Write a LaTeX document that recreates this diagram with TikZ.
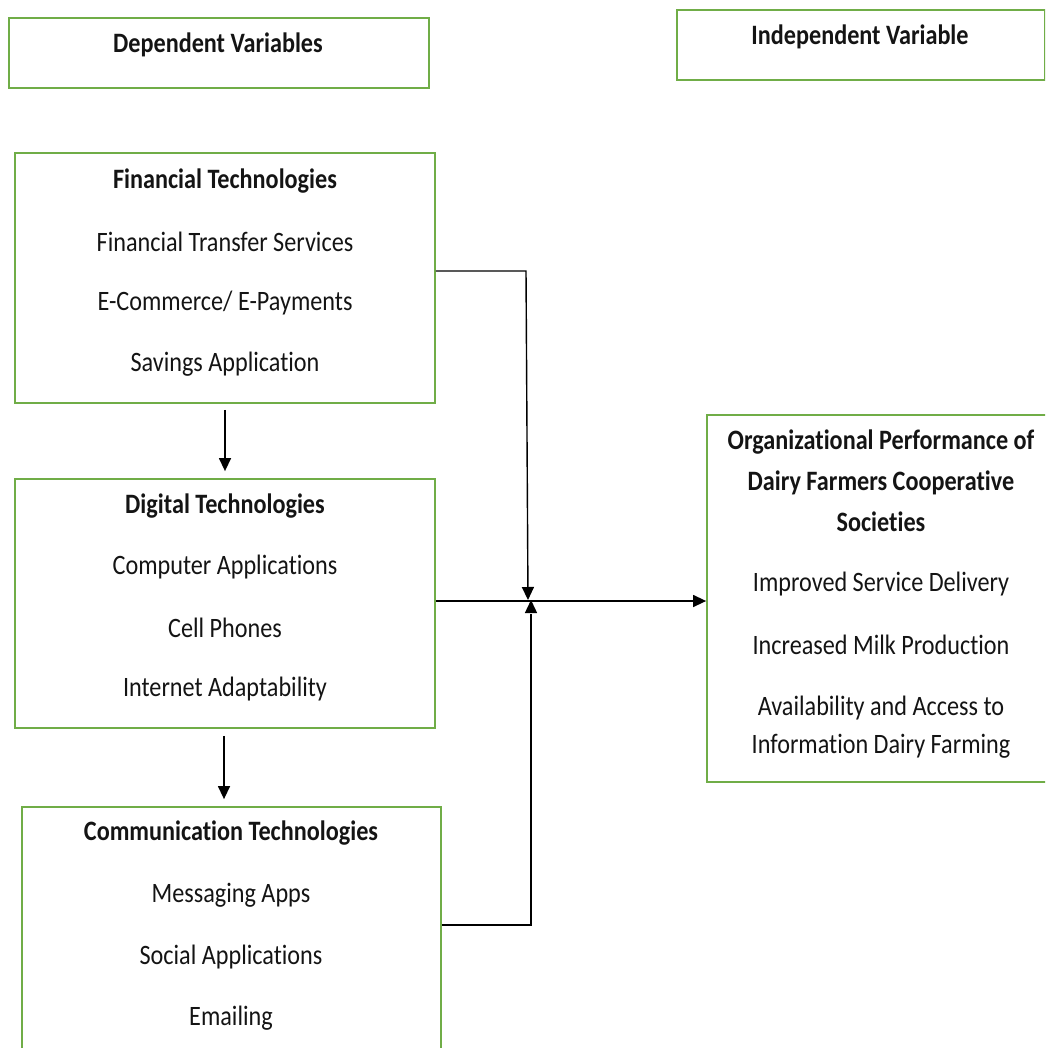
\documentclass[tikz,border=0pt]{standalone}
\usepackage{fontspec}
\setmainfont{Carlito}[Ligatures={NoCommon}]
\usetikzlibrary{arrows.meta}
\definecolor{boxgreen}{RGB}{112,173,71}
\definecolor{txt}{RGB}{20,20,20}
\newcommand{\stx}[1]{\scalebox{1}[1.16]{#1}}
\begin{document}
\begin{tikzpicture}[x=1pt,y=-1pt,
  box/.style={draw=boxgreen, line width=1.8pt, rectangle, inner sep=0pt},
  lbl/.style={text=txt, font=\fontsize{24.2}{28}\selectfont, inner sep=0pt, anchor=center},
  ttl/.style={lbl, font=\fontsize{24.2}{28}\selectfont\bfseries},
  conn/.style={draw=black, line width=1.4pt},
  arr/.style={conn, -{Triangle[length=13pt,width=12pt]}}]
\useasboundingbox (0,0) rectangle (1045,1048);
\begin{scope}
\clip (0,0) rectangle (1045,1048);
% boxes
\node[box, minimum width=420pt, minimum height=70pt] (dep) at (219,53) {};
\node[box, minimum width=368pt, minimum height=70pt] (ind) at (861,45) {};
\node[box, minimum width=420pt, minimum height=250pt] (fin) at (225,278) {};
\node[box, minimum width=420pt, minimum height=249pt] (dig) at (225,603.5) {};
\node[box, minimum width=419pt, minimum height=260pt] (com) at (231.5,937) {};
\node[box, minimum width=350pt, minimum height=367pt] (org) at (882,598.5) {};
\end{scope}
% headings
\node[ttl] (tdep) at (218,45) {\stx{Dependent Variables}};
\node[ttl] (tind) at (860,37) {\stx{Independent Variable}};
% financial
\node[ttl] (tfin) at (225,181) {\stx{Financial Technologies}};
\node[lbl] (f1) at (225,242) {\stx{Financial Transfer Services}};
\node[lbl] (f2) at (225,303) {\stx{E-Commerce/ E-Payments}};
\node[lbl] (f3) at (225,364) {\stx{Savings Application}};
% digital
\node[ttl] (tdig) at (225,506) {\stx{Digital Technologies}};
\node[lbl] (d1) at (225,567) {\stx{Computer Applications}};
\node[lbl] (d2) at (225,628) {\stx{Cell Phones}};
\node[lbl] (d3) at (225,689) {\stx{Internet Adaptability}};
% communication
\node[ttl] (tcom) at (231,833) {\stx{Communication Technologies}};
\node[lbl] (c1) at (231,895) {\stx{Messaging Apps}};
\node[lbl] (c2) at (231,957) {\stx{Social Applications}};
\node[lbl] (c3) at (231,1018) {\stx{Emailing}};
% organizational
\node[ttl] (to1) at (881,442) {\stx{Organizational Performance of}};
\node[ttl] (to2) at (881,483) {\stx{Dairy Farmers Cooperative}};
\node[ttl] (to3) at (881,522) {\stx{Societies}};
\node[lbl] (o1) at (881,584) {\stx{Improved Service Delivery}};
\node[lbl] (o2) at (881,645) {\stx{Increased Milk Production}};
\node[lbl] (o3) at (881,708) {\stx{Availability and Access to}};
\node[lbl] (o4) at (881,746) {\stx{Information Dairy Farming}};
% connectors
\coordinate (jf) at (526,271);
\coordinate (j) at (528,600);
\coordinate (jc) at (531,925);
\coordinate (jd) at (528,601);
\draw[arr] (fin.east |- jf) -- (jf) -- (j);
\draw[conn] (com.east |- jc) -- (jc) -- ([yshift=-14pt]jc |- j);
\draw[arr] ([yshift=-12pt]jc |- j) -- (jc |- j);
\draw[arr] (dig.east |- jd) -- (org.west |- jd);
\draw[arr] ([yshift=-6pt]fin.south) -- ([yshift=7pt]dig.north);
\coordinate (dc) at (224,0);
\draw[arr] ([yshift=-7pt]dig.south -| dc) -- ([yshift=7pt]com.north -| dc);
\end{tikzpicture}
\end{document}
